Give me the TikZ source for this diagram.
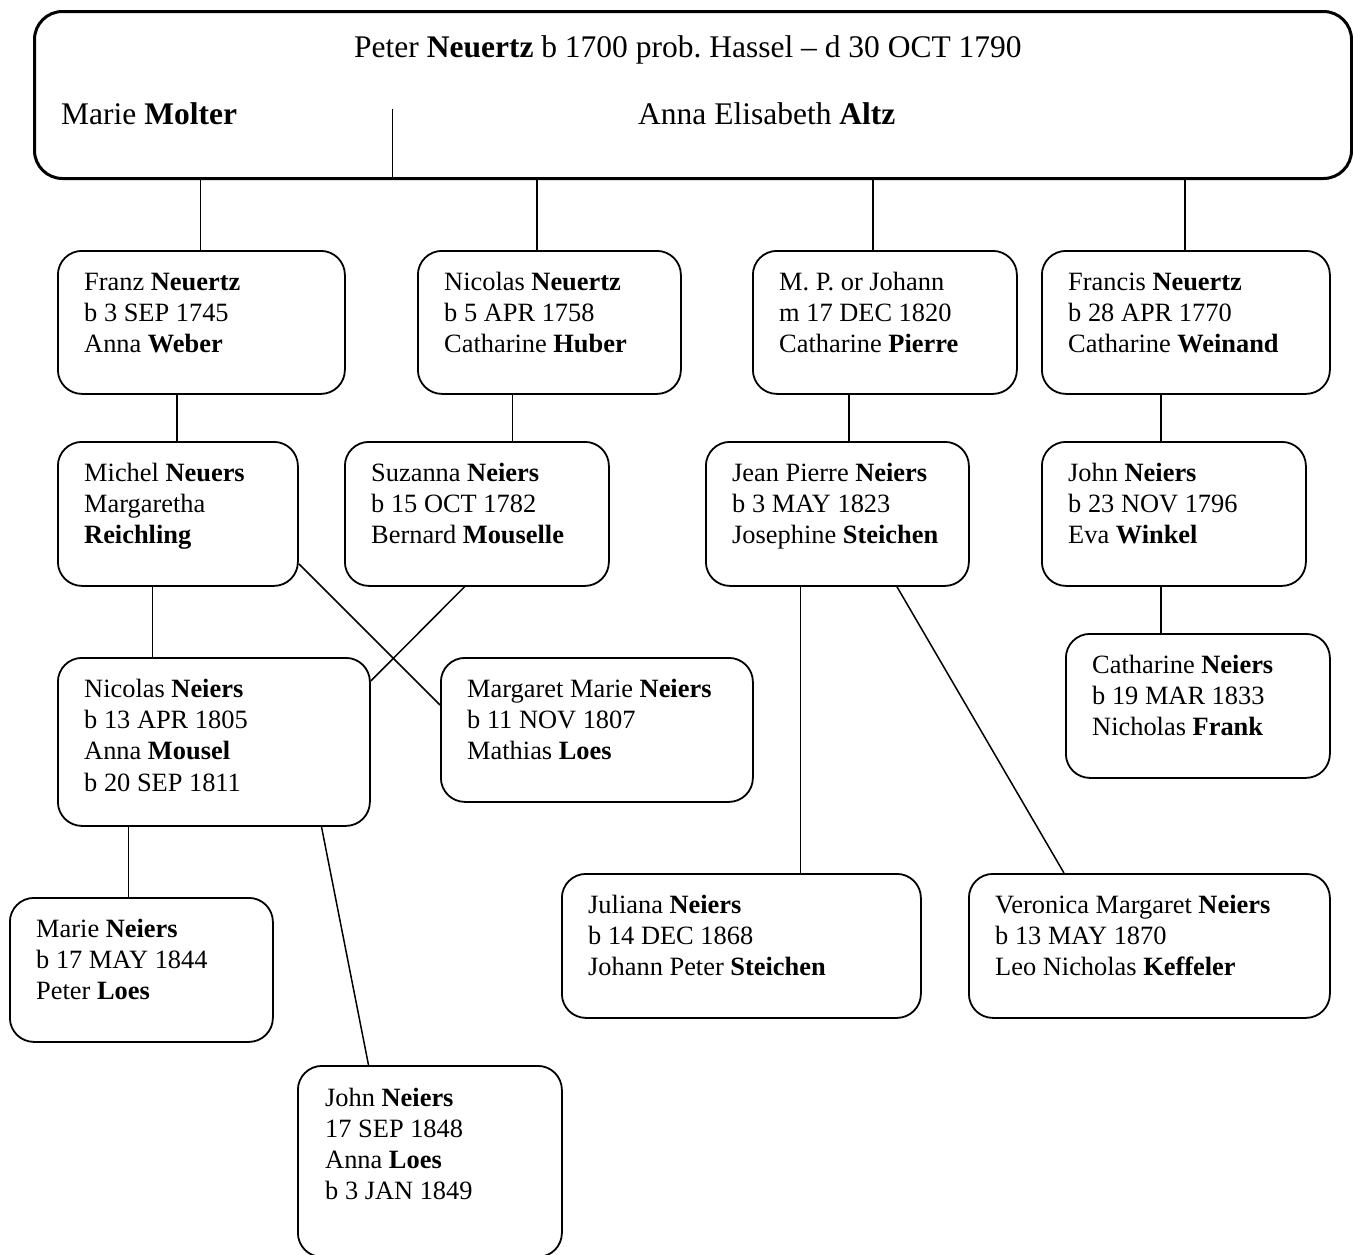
\documentclass[tikz,border=0pt]{standalone}
\usepackage{fontspec}
\setmainfont{Liberation Serif}
\frenchspacing
\newcommand{\ptlines}[1]{\begin{tabular}[t]{@{}l@{}}#1\end{tabular}}
\begin{document}
\begin{tikzpicture}[x=1pt,y=-1pt,
  pbox/.style={draw=black, line width=1.8pt, rounded corners=24pt, anchor=north west, inner sep=0pt},
  topbox/.style={draw=black, line width=3pt, rounded corners=28pt, anchor=north west, inner sep=0pt},
  ptext/.style={anchor=base west, inner sep=0pt, font=\fontsize{26.4}{31.2}\selectfont},
  toptext/.style={anchor=base west, inner sep=0pt, font=\fontsize{31.5}{37}\selectfont},
  conn/.style={draw=black, line width=1.5pt}]
\useasboundingbox (0,0) rectangle (1353,1254);

% top box
\node[topbox, minimum width=1317pt, minimum height=167pt] (top) at (33,10) {};
\node[toptext] (tpeter) at (354,57) {Peter \textbf{Neuertz} b 1700 prob. Hassel – d 30 OCT 1790};
\node[toptext] (tmarie) at (61,124) {Marie \textbf{Molter}};
\node[toptext] (tanna) at (638,124) {Anna Elisabeth \textbf{Altz}};
\path (top.south west) ++(359.5,0) coordinate (div1);
\draw[conn] (div1) -- ++(0,-71);

% row 1
\node[pbox, minimum width=287pt, minimum height=143pt] (franz) at (57,250) {};
\node[pbox, minimum width=263pt, minimum height=143pt] (nicN) at (417,250) {};
\node[pbox, minimum width=264pt, minimum height=143pt] (mp) at (752,250) {};
\node[pbox, minimum width=288pt, minimum height=143pt] (francis) at (1041,250) {};
\node[ptext] (tfranz) at (84,290.5) {\ptlines{Franz \textbf{Neuertz}\\ b 3 SEP 1745\\ Anna \textbf{Weber}}};
\node[ptext] (tnicN) at (444,290.5) {\ptlines{Nicolas \textbf{Neuertz}\\ b 5 APR 1758\\ Catharine \textbf{Huber}}};
\node[ptext] (tmp) at (779,290.5) {\ptlines{M. P. or Johann\\ m 17 DEC 1820\\ Catharine \textbf{Pierre}}};
\node[ptext] (tfrancis) at (1068,290.5) {\ptlines{Francis \textbf{Neuertz}\\ b 28 APR 1770\\ Catharine \textbf{Weinand}}};

% row 2
\node[pbox, minimum width=240pt, minimum height=144pt] (michel) at (57,441) {};
\node[pbox, minimum width=264pt, minimum height=144pt] (suz) at (344,441) {};
\node[pbox, minimum width=263pt, minimum height=144pt] (jean) at (705,441) {};
\node[pbox, minimum width=264pt, minimum height=144pt] (johnN) at (1041,441) {};
\node[ptext] (tmichel) at (84,481.5) {\ptlines{Michel \textbf{Neuers}\\ Margaretha\\ \textbf{Reichling}}};
\node[ptext] (tsuz) at (371,481.5) {\ptlines{Suzanna \textbf{Neiers}\\ b 15 OCT 1782\\ Bernard \textbf{Mouselle}}};
\node[ptext] (tjean) at (732,481.5) {\ptlines{Jean Pierre \textbf{Neiers}\\ b 3 MAY 1823\\ Josephine \textbf{Steichen}}};
\node[ptext] (tjohnN) at (1068,481.5) {\ptlines{John \textbf{Neiers}\\ b 23 NOV 1796\\ Eva \textbf{Winkel}}};

% row 3
\node[pbox, minimum width=312pt, minimum height=168pt] (nicolas) at (57,657) {};
\node[pbox, minimum width=312pt, minimum height=144pt] (margaret) at (440,657) {};
\node[pbox, minimum width=264pt, minimum height=144pt] (cath) at (1065,633) {};
\node[ptext] (tnicolas) at (84,697.5) {\ptlines{Nicolas \textbf{Neiers}\\ b 13 APR 1805\\ Anna \textbf{Mousel}\\ b 20 SEP 1811}};
\node[ptext] (tmargaret) at (467,697.5) {\ptlines{Margaret Marie \textbf{Neiers}\\ b 11 NOV 1807\\ Mathias \textbf{Loes}}};
\node[ptext] (tcath) at (1092,673.5) {\ptlines{Catharine \textbf{Neiers}\\ b 19 MAR 1833\\ Nicholas \textbf{Frank}}};

% row 4
\node[pbox, minimum width=263pt, minimum height=144pt] (marie) at (9,897) {};
\node[pbox, minimum width=264pt, minimum height=191pt] (john) at (297,1065) {};
\node[pbox, minimum width=359pt, minimum height=144pt] (juliana) at (561,873) {};
\node[pbox, minimum width=361pt, minimum height=144pt] (veronica) at (968,873) {};
\node[ptext] (tmarie2) at (36,937.5) {\ptlines{Marie \textbf{Neiers}\\ b 17 MAY 1844\\ Peter \textbf{Loes}}};
\node[ptext] (tjohn) at (325,1106) {\ptlines{John \textbf{Neiers}\\ 17 SEP 1848\\ Anna \textbf{Loes}\\ b 3 JAN 1849}};
\node[ptext] (tjuliana) at (588,913.5) {\ptlines{Juliana \textbf{Neiers}\\ b 14 DEC 1868\\ Johann Peter \textbf{Steichen}}};
\node[ptext] (tveronica) at (995,913.5) {\ptlines{Veronica Margaret \textbf{Neiers}\\ b 13 MAY 1870\\ Leo Nicholas \textbf{Keffeler}}};

% vertical connectors
\path (franz.north west) ++(143.5,0) coordinate (c1);
\draw[conn] (c1) -- (c1 |- top.south);
\path (nicN.north west) ++(120,0) coordinate (c2);
\draw[conn] (c2) -- (c2 |- top.south);
\path (mp.north west) ++(121,0) coordinate (c3);
\draw[conn] (c3) -- (c3 |- top.south);
\path (francis.north west) ++(144,0) coordinate (c4);
\draw[conn] (c4) -- (c4 |- top.south);
\path (michel.north west) ++(120,0) coordinate (c5);
\draw[conn] (c5) -- (c5 |- franz.south);
\path (suz.north west) ++(168.5,0) coordinate (c6);
\draw[conn] (c6) -- (c6 |- nicN.south);
\path (jean.north west) ++(144,0) coordinate (c7);
\draw[conn] (c7) -- (c7 |- mp.south);
\path (johnN.north west) ++(120,0) coordinate (c8);
\draw[conn] (c8) -- (c8 |- francis.south);
\path (nicolas.north west) ++(95.5,0) coordinate (c9);
\draw[conn] (c9) -- (c9 |- michel.south);
\path (cath.north west) ++(96,0) coordinate (c10);
\draw[conn] (c10) -- (c10 |- johnN.south);
\path (marie.north west) ++(119.5,0) coordinate (c11);
\draw[conn] (c11) -- (c11 |- nicolas.south);
\path (juliana.north west) ++(239.5,0) coordinate (c12);
\draw[conn] (c12) -- (c12 |- jean.south);

% diagonal connectors
\path (michel.south east) ++(0,-23) coordinate (d1a);
\path (margaret.north west) ++(0,48) coordinate (d1b);
\draw[conn] (d1a) -- (d1b);
\path (suz.south west) ++(120.5,0) coordinate (d2a);
\path (nicolas.north east) ++(0,24) coordinate (d2b);
\draw[conn] (d2a) -- (d2b);
\path (nicolas.south west) ++(264.5,0) coordinate (d3a);
\path (john.north west) ++(71.5,0) coordinate (d3b);
\draw[conn] (d3a) -- (d3b);
\path (jean.south west) ++(192,0) coordinate (d4a);
\path (veronica.north west) ++(96,0) coordinate (d4b);
\draw[conn] (d4a) -- (d4b);
\end{tikzpicture}
\end{document}
